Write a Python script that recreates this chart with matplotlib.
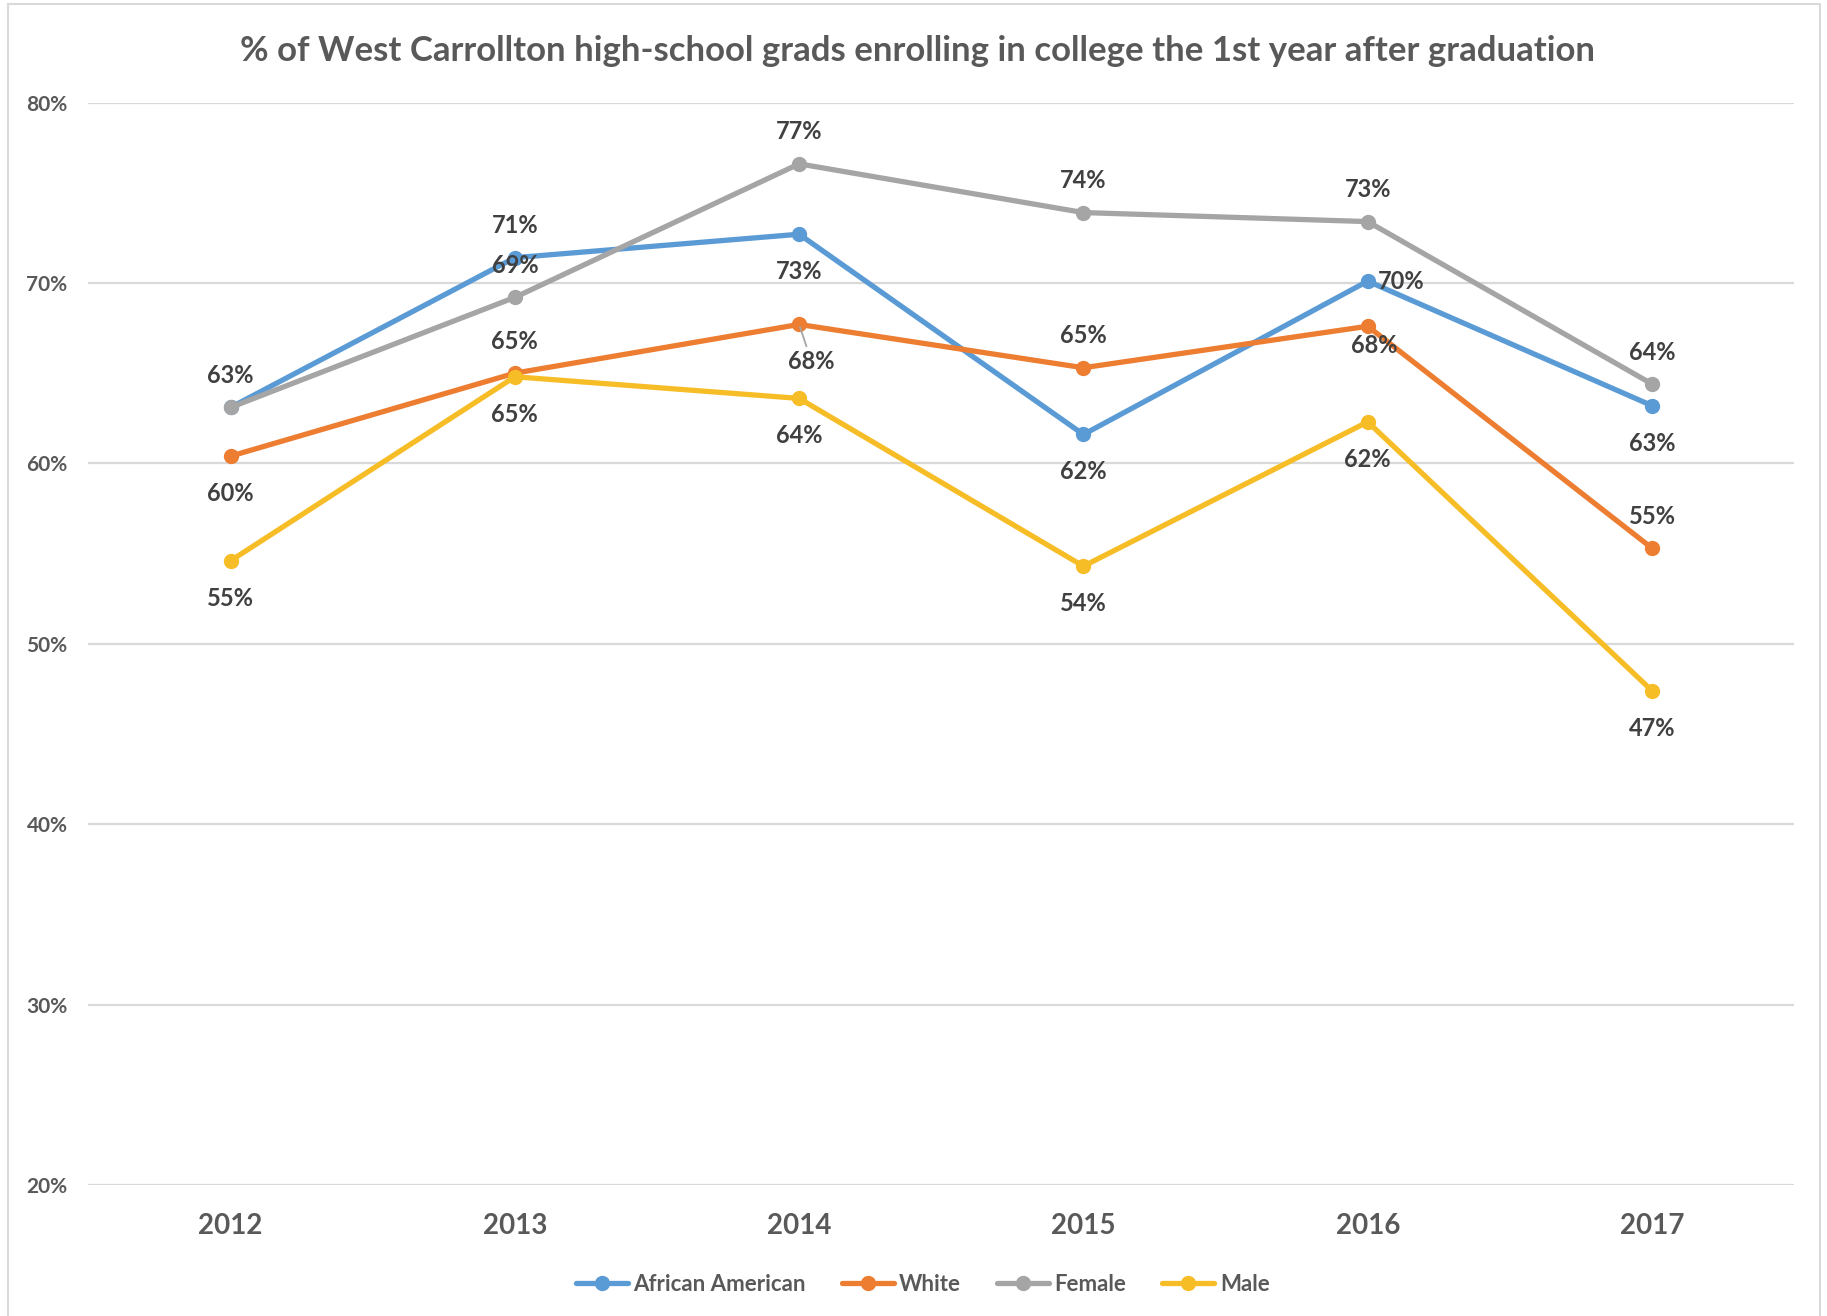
import matplotlib.pyplot as plt
import matplotlib.patches as patches
from matplotlib.ticker import FuncFormatter

# data (percent)
years = ['2012', '2013', '2014', '2015', '2016', '2017']
african_american = [63.1, 71.4, 72.7, 61.6, 70.1, 63.2]
white = [60.4, 65.0, 67.7, 65.3, 67.6, 55.3]
female = [63.1, 69.2, 76.6, 73.9, 73.4, 64.4]
male = [54.6, 64.8, 63.6, 54.3, 62.3, 47.4]

names = ['African American', 'White', 'Female', 'Male']
colors = ['#5B9BD5', '#ED7D31', '#A5A5A5', '#F6BD27']
series = [african_american, white, female, male]

# where each data label sits relative to its point
places = [
    [None, 'above', 'below', 'below', 'right', 'below'],
    ['below', 'above', 'leader', 'above', 'below_r', 'above'],
    ['above', 'above', 'above', 'above', 'above', 'above'],
    ['below', 'below', 'below', 'below', 'below', 'below'],
]

plt.rcParams['font.family'] = ['Lato', 'DejaVu Sans']

fig = plt.figure(figsize=(18.27, 13.16), dpi=100)
ax = fig.add_axes([0.0484, 0.0995, 0.9336, 0.8226])

x = list(range(len(years)))
for vals, nm, c in zip(series, names, colors):
    ax.plot(x, vals, color=c, lw=3.8, marker='o', ms=10, label=nm,
            solid_capstyle='round', zorder=3)

offs = {'above': (0, 23), 'below': (0, -27), 'right': (7, 0),
        'below_r': (5, -14), 'leader': (9, -27)}
for vals, pl in zip(series, places):
    for i, (v, p) in enumerate(zip(vals, pl)):
        if p is None:
            continue
        dx, dy = offs[p]
        ha = 'left' if p == 'right' else 'center'
        kw = {}
        if p == 'leader':
            kw['arrowprops'] = dict(arrowstyle='-', color='#A5A5A5', lw=1.3,
                                    shrinkA=1, shrinkB=2)
        ax.annotate('%d%%' % round(v), (i, v), xytext=(dx, dy),
                    textcoords='offset points', ha=ha, va='center',
                    fontsize=17, fontweight='bold', color='#404040',
                    zorder=5, **kw)

ax.set_xlim(-0.5, 5.5)
ax.set_ylim(20, 80)
ax.set_yticks([20, 30, 40, 50, 60, 70, 80])
ax.yaxis.set_major_formatter(FuncFormatter(lambda v, p: '%d%%' % v))
ax.set_xticks(x)
ax.set_xticklabels(years)
ax.grid(axis='y', color='#D9D9D9', lw=1.6)
ax.set_axisbelow(True)
for s in ax.spines.values():
    s.set_visible(False)
ax.tick_params(axis='y', length=0, pad=15, labelsize=15, labelcolor='#595959')
ax.tick_params(axis='x', length=0, pad=20, labelsize=20, labelcolor='#595959')
for t in ax.get_xticklabels() + ax.get_yticklabels():
    t.set_fontweight('bold')

fig.text(0.502, 0.961, '% of West Carrollton high-school grads enrolling in college the 1st year after graduation',
         ha='center', va='center', fontsize=25, fontweight='bold', color='#595959')

leg = fig.legend(loc='center', bbox_to_anchor=(0.505, 0.0243), ncol=4, frameon=False,
                 fontsize=16, handlelength=2.35, handletextpad=0.25, columnspacing=1.6)
for t in leg.get_texts():
    t.set_color('#595959')
    t.set_fontweight('bold')

fig.patches.append(patches.Rectangle((8 / 1827, -0.01), 1812 / 1827, 1.01 - 4 / 1316,
                                     transform=fig.transFigure, fill=False,
                                     edgecolor='#D9D9D9', lw=1.5))

fig.savefig('out.png', dpi=100)
